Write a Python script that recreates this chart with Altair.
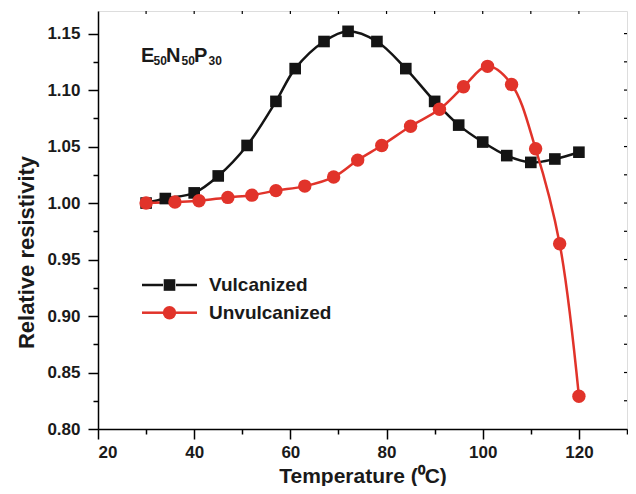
import altair as alt
import pandas as pd

# ---- data ----
temp_vulc = [30, 34, 40, 45, 51, 57, 61, 67, 72, 78, 84, 90, 95, 100, 105, 110, 115, 120]
rr_vulc = [1.000, 1.004, 1.009, 1.024, 1.051, 1.090, 1.119, 1.143, 1.152, 1.143,
           1.119, 1.090, 1.069, 1.054, 1.042, 1.036, 1.039, 1.045]
temp_unvulc = [30, 36, 41, 47, 52, 57, 63, 69, 74, 79, 85, 91, 96, 101, 106, 111, 116, 120]
rr_unvulc = [1.000, 1.001, 1.002, 1.005, 1.007, 1.011, 1.015, 1.023, 1.038, 1.051,
             1.068, 1.083, 1.103, 1.121, 1.105, 1.048, 0.964, 0.829]
series_names = ["Vulcanized", "Unvulcanized"]
series_colors = ["#141414", "#e1332a"]
series_shapes = ["square", "circle"]

x_major = [20, 40, 60, 80, 100, 120]
x_minor = [30, 50, 70, 90, 110, 130]
x_top_ticks = [30, 40, 50, 60, 70, 80, 90, 100, 110, 120]
y_major = [0.80, 0.85, 0.90, 0.95, 1.00, 1.05, 1.10, 1.15]
y_minor = [0.825, 0.875, 0.925, 0.975, 1.025, 1.075, 1.125]
y_right_ticks = [0.825, 0.85, 0.875, 0.90, 0.925, 0.95, 0.975, 1.00, 1.025, 1.05,
                 1.075, 1.10, 1.125, 1.15]
label_parts = ["E", "50", "N", "50", "P", "30"]
x_title = "Temperature (\u2070C)"
y_title = "Relative resistivity"

W, H = 529, 418
FONT = "Liberation Sans"

df = pd.concat([
    pd.DataFrame({"T": temp_vulc, "R": rr_vulc, "series": series_names[0], "order": 0}),
    pd.DataFrame({"T": temp_unvulc, "R": rr_unvulc, "series": series_names[1], "order": 1}),
], ignore_index=True)

xscale = alt.Scale(domain=[20, 130], nice=False, zero=False)
yscale = alt.Scale(domain=[0.80, 1.17], nice=False, zero=False)
cscale = alt.Scale(domain=series_names, range=series_colors)
sscale = alt.Scale(domain=series_names, range=series_shapes)

major_common = dict(grid=False, domainColor="black", domainWidth=1.5, tickColor="black",
                    tickWidth=1.5, tickSize=10, labelFont=FONT, labelFontWeight="bold",
                    labelFontSize=17, labelColor="#1a1a1a", titleFont=FONT,
                    titleFontWeight="bold", titleColor="#1a1a1a")

x_axis_major = alt.Axis(orient="bottom", values=x_major, format="d", labelPadding=5,
                        title=x_title, titleFontSize=21, titleY=53,
                        titleBaseline="alphabetic", **major_common)
y_axis_major = alt.Axis(orient="left", values=y_major, format=".2f", labelPadding=8,
                        title=y_title, titleFontSize=22, titleAngle=270, titleX=-72,
                        titleY=241, titleBaseline="middle", titleAlign="center",
                        **major_common)

minor_common = dict(grid=False, domain=False, labels=False, tickColor="black",
                    tickWidth=1.5, tickSize=5, title=None)
x_axis_minor = alt.Axis(orient="bottom", values=x_minor, **minor_common)
y_axis_minor = alt.Axis(orient="left", values=y_minor, **minor_common)

lines = alt.Chart(df).mark_line(interpolate="catmull-rom", strokeWidth=2.5).encode(
    x=alt.X("T:Q", scale=xscale, axis=x_axis_major),
    y=alt.Y("R:Q", scale=yscale, axis=y_axis_major),
    color=alt.Color("series:N", scale=cscale, legend=None),
    detail="series:N",
)

points = alt.Chart(df).mark_point(filled=True, opacity=1).encode(
    x=alt.X("T:Q", scale=xscale, axis=x_axis_minor),
    y=alt.Y("R:Q", scale=yscale, axis=y_axis_minor),
    color=alt.Color("series:N", scale=cscale, legend=None),
    shape=alt.Shape("series:N", scale=sscale, legend=None),
    size=alt.Size("series:N", scale=alt.Scale(domain=series_names, range=[135, 180]), legend=None),
    order=alt.Order("order:Q"),
)

top_ticks = alt.Chart(pd.DataFrame({"T": x_top_ticks})).mark_rule(color="black", strokeWidth=1.2).encode(
    x=alt.X("T:Q", scale=xscale, axis=None), y=alt.value(0), y2=alt.value(3))
right_ticks = alt.Chart(pd.DataFrame({"R": y_right_ticks})).mark_rule(color="black", strokeWidth=1.2).encode(
    y=alt.Y("R:Q", scale=yscale, axis=None), x=alt.value(W - 3), x2=alt.value(W))

layers = [lines, points, top_ticks, right_ticks]

# legend (drawn by hand: line + marker + label)
leg_rows = [274, 301.7]
for i, name in enumerate(series_names):
    one = pd.DataFrame({"s": [name]})
    yv = leg_rows[i]
    for xa, xb in [(44, 65), (78, 99)]:
        layers.append(alt.Chart(one).mark_rule(color=series_colors[i], strokeWidth=2.5).encode(
            x=alt.value(xa), x2=alt.value(xb), y=alt.value(yv)))
    layers.append(alt.Chart(one).mark_point(filled=True, opacity=1, shape=series_shapes[i],
                                            color=series_colors[i],
                                            size=135 if i == 0 else 180).encode(
        x=alt.value(71.5), y=alt.value(yv)))
    layers.append(alt.Chart(one).mark_text(align="left", baseline="middle", font=FONT,
                                           fontWeight="bold", fontSize=19, color="#1a1a1a").encode(
        text="s:N", x=alt.value(111), y=alt.value(yv)))

# sample label E50N50P30 with subscripts
part_x = [43, 55.5, 68, 83.5, 96, 110.5]
for j, part in enumerate(label_parts):
    sub = j % 2 == 1
    layers.append(alt.Chart(pd.DataFrame({"p": [part]})).mark_text(
        align="left", baseline="alphabetic", font=FONT, fontWeight="bold",
        fontSize=12 if sub else 20, color="#1a1a1a").encode(
        text="p:N", x=alt.value(part_x[j]), y=alt.value(54 if sub else 50.5)))

chart = alt.layer(*layers).resolve_axis(x="independent", y="independent").properties(
    width=W, height=H,
    autosize=alt.AutoSizeParams(type="none"),
    padding={"left": 90, "top": 3, "right": 1, "bottom": 57},
).configure_view(stroke="black", strokeWidth=1.5).configure(background="white")

chart.save("out.html", embed_options={"renderer": "svg", "actions": False})
